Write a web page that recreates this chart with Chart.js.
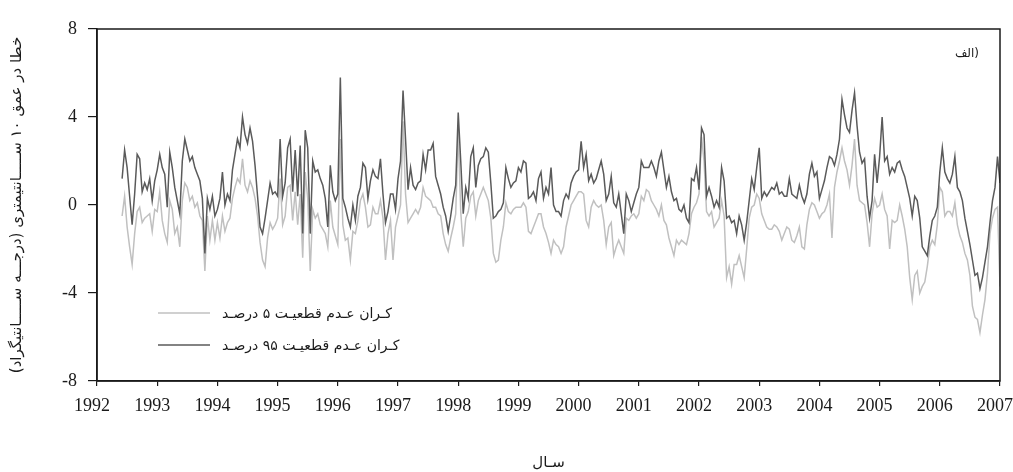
<!DOCTYPE html>
<html>
<head>
<meta charset="utf-8">
<script src="https://cdn.jsdelivr.net/npm/chart.js@4.4.1/dist/chart.umd.min.js"></script>
<style>
  html, body { margin: 0; padding: 0; background: #fff; }
  #wrap { width: 1013px; height: 472px; position: relative; }
</style>
</head>
<body>
<div id="wrap"><canvas id="errChart"></canvas></div>
<script>
// ===== Data (half-month samples) =====
const SAMPLE_START = 1992.417;   // first sample, early June 1992
const SAMPLE_STEP = 1 / 24;      // two samples per month

// upper 95% uncertainty bound
const upper95 = [
  1.2, 2.5, 1.7, 0.4, -0.9, 0.5, 2.3, 2.1, 0.6, 1.0, 0.7, 1.2, 0.2, 1.1,                                   // 1992
  1.6, 2.3, 1.7, 1.4, -0.1, 2.4, 1.7, 0.8, 0.2, -0.4, 2.0, 3.0, 2.5, 2.0, 2.2, 1.7, 1.4, 1.1, 0.3, -2.2, 0.3, -0.2, 0.4, -0.5, // 1993
  -0.2, 0.3, 1.5, 0.0, 0.5, 0.2, 1.6, 2.3, 3.0, 2.6, 4.0, 3.2, 2.8, 3.5, 2.9, 1.8, 0.4, -1.0, -1.3, -0.6, 0.2, 1.0, 0.5, 0.6,  // 1994
  0.4, 3.0, 0.4, 1.0, 2.6, 3.0, 0.6, 2.5, 0.4, 2.7, -1.3, 3.4, 2.6, -1.3, 2.0, 1.5, 1.6, 1.2, 0.9, 0.3, -1.0, 1.8, 0.6, 0.2,   // 1995
  0.5, 5.8, 0.3, -0.1, -0.6, -1.0, 0.0, -0.7, 0.4, 0.8, 1.9, 1.7, 0.3, 1.1, 1.6, 1.3, 1.2, 2.1, 0.5, -0.8, -0.3, 0.5, 0.5, -0.2, // 1996
  1.2, 2.0, 5.2, 3.0, 0.7, 1.7, 0.9, 0.7, 1.0, 1.1, 2.3, 1.6, 2.5, 2.5, 2.8, 1.3, 0.9, 0.5, -0.1, -0.5, -1.2, -0.5, 0.3, 0.9,   // 1997
  4.2, 2.0, -0.4, 0.8, 0.3, 2.2, 2.6, 0.8, 1.8, 2.1, 2.2, 2.6, 2.4, 1.0, -0.6, -0.5, -0.3, -0.2, 0.1, 1.7, 1.2, 0.8, 1.0, 1.1,  // 1998
  1.7, 1.5, 2.0, 1.9, 0.3, 0.4, 0.6, 0.2, 1.2, 1.5, 0.3, 0.8, 0.5, 1.7, 0.0, -0.3, -0.3, -0.5, 0.2, 0.5, 0.3, 1.0, 1.3, 1.5,   // 1999
  1.6, 2.9, 1.7, 2.3, 1.1, 1.4, 1.0, 1.2, 1.6, 2.0, 1.4, 0.2, 0.5, 1.3, 0.1, -0.1, 0.5, -0.4, -1.3, 0.5, 0.2, -0.3, 0.1, 0.5,  // 2000
  0.8, 2.0, 1.7, 1.7, 1.7, 2.0, 1.7, 1.3, 2.0, 2.4, 1.6, 0.8, 1.3, 0.6, 0.2, 0.3, -0.2, -0.3, 0.0, -0.6, -0.8, 1.2, 1.1, 1.7,  // 2001
  0.7, 3.5, 3.2, 0.4, 0.8, 0.4, -0.1, 0.2, -0.1, 1.7, 1.1, -0.6, -0.5, -0.8, -0.7, -1.3, -0.5, -0.9, -1.6, -0.8, 0.2, 1.2, 0.7, 1.7, // 2002
  2.6, 0.3, 0.6, 0.4, 0.6, 0.8, 0.7, 1.0, 0.5, 0.6, 0.4, 0.4, 1.2, 0.5, 0.4, 0.3, 0.9, 0.4, 0.1, 0.5, 1.4, 1.9, 1.3, 1.5,      // 2003
  0.3, 0.7, 1.1, 1.7, 2.2, 2.1, 1.8, 2.3, 3.0, 4.8, 4.1, 3.5, 3.3, 4.3, 5.1, 3.6, 2.4, 1.9, 2.1, 0.4, -0.6, 0.2, 2.3, 1.0,     // 2004
  2.2, 4.0, 2.0, 2.2, 1.4, 1.7, 1.5, 1.9, 2.0, 1.6, 1.3, 0.8, 0.3, -0.5, 0.4, 0.2, -0.6, -1.9, -2.1, -2.3, -1.4, -0.7, -0.5, -0.1, // 2005
  1.5, 2.6, 1.5, 1.2, 1.0, 1.4, 2.2, 0.8, 0.6, 0.2, -0.6, -1.2, -1.8, -2.5, -3.2, -3.1, -3.8, -3.3, -2.6, -1.9, -0.8, 0.2, 0.8, 2.2, // 2006
  1.0                                                                                                           // 2007
];

// lower 5% uncertainty bound
const lower5 = [
  -0.5, 0.4, -1.0, -1.9, -2.7, -1.3, -0.3, -0.1, -0.8, -0.6, -0.5, -0.4, -1.2, -0.2,                          // 1992
  -0.3, 0.6, -0.7, -1.3, -1.7, 0.2, -0.2, -1.3, -1.0, -1.9, 0.2, 1.0, 0.8, 0.2, 0.4, -0.1, 0.1, -0.5, -0.7, -3.0, -0.5, -1.6, -0.7, -1.6, // 1993
  -0.8, -1.5, -0.5, -1.2, -0.8, -0.6, 0.3, 0.8, 1.2, 1.0, 2.1, 0.9, 0.6, 1.1, 0.8, 0.3, -0.5, -1.7, -2.5, -2.8, -1.5, -0.8, -1.1, -0.9, // 1994
  -0.6, 1.2, -0.9, -0.5, 0.8, 0.9, -0.7, 0.6, -0.9, 0.5, -2.4, 1.5, 0.3, -3.0, -0.2, -0.6, -0.4, -0.9, -1.1, -1.3, -1.9, 0.2, -1.0, -1.4, // 1995
  -1.8, 3.0, -0.9, -1.6, -1.5, -2.5, -1.2, -1.3, -0.7, 0.2, 0.5, -0.1, -1.0, -0.9, -0.1, -0.4, -0.4, 0.2, -0.6, -2.5, -1.3, -0.7, -2.5, -1.0, // 1996
  -0.5, 0.0, 3.8, 0.5, -0.8, -0.6, -0.4, -0.2, -0.4, -0.1, 0.8, 0.4, 0.3, 0.2, -0.1, -0.1, -0.4, -0.5, -1.3, -1.8, -2.1, -1.5, -1.0, -0.4, // 1997
  3.4, -0.3, -1.9, -0.6, -0.3, 0.4, 0.6, -0.5, 0.2, 0.5, 0.8, 0.5, 0.2, -0.6, -2.2, -2.6, -2.5, -1.6, -1.0, 0.1, -0.3, -0.4, -0.2, -0.1, // 1998
  -0.1, -0.1, 0.1, -0.1, -1.2, -1.3, -1.0, -0.7, -0.4, -0.4, -1.0, -1.3, -1.7, -2.2, -1.6, -1.8, -1.9, -2.2, -1.9, -1.0, -0.5, 0.0, 0.2, 0.4, // 1999
  0.6, 0.6, 0.5, -0.7, -1.0, -0.1, 0.2, 0.0, -0.1, 0.0, -0.7, -1.8, -1.0, -0.8, -2.3, -1.9, -1.6, -1.9, -2.2, -0.6, -0.7, -0.5, -0.4, -0.6, // 2000
  -0.4, 0.4, 0.2, 0.7, 0.6, 0.2, 0.0, -0.2, -0.5, 0.0, -0.7, -0.9, -1.5, -1.9, -2.3, -1.6, -1.8, -1.6, -1.7, -1.8, -1.3, -0.4, -0.1, 0.1, // 2001
  0.5, 3.1, 2.0, -0.3, -0.5, -0.3, -1.0, -0.8, -0.6, 0.2, -0.5, -3.3, -2.8, -3.6, -2.7, -2.7, -2.3, -2.8, -3.3, -2.0, -0.6, -0.1, 0.0, 0.5, // 2002
  0.3, -0.4, -0.7, -1.0, -1.1, -1.1, -0.9, -1.0, -1.2, -1.6, -1.3, -1.0, -1.1, -1.6, -1.7, -1.4, -1.0, -1.9, -2.0, -0.9, -0.2, 0.1, 0.0, -0.3, // 2003
  -0.6, -0.4, -0.3, 0.0, 0.5, -1.5, 0.8, 1.5, 2.0, 2.6, 2.0, 1.6, 0.9, 1.8, 3.0, 0.9, 0.2, 0.1, 0.0, -0.8, -1.9, -0.4, 0.3, -0.1, // 2004
  0.0, 0.5, -0.2, -0.5, -2.0, -0.7, -0.8, -0.7, 0.0, -0.5, -1.1, -1.9, -3.3, -4.3, -3.2, -3.0, -4.0, -3.7, -3.5, -2.8, -1.9, -1.6, -1.8, -0.9, // 2005
  0.8, 0.6, -0.5, -0.3, -0.3, -0.5, 0.1, -0.9, -1.4, -1.7, -2.2, -2.5, -3.2, -4.6, -5.1, -5.2, -5.8, -5.0, -4.3, -3.1, -1.3, -0.6, -0.2, -0.1, // 2006
  -3.7                                                                                                          // 2007
];

const X_MIN = 1992, X_MAX = 2007;
const Y_TICKS = [-8, -4, 0, 4, 8];

const LEGEND_LOW = 'کـران عـدم قطعیـت ۵ درصـد';
const LEGEND_HIGH = 'کـران عـدم قطعیـت ۹۵ درصـد';
const PANEL_LABEL = 'الف)';
const X_TITLE = 'سـال';
const Y_TITLE = 'خطا در عمق ۱۰ ســـــانتیمتری (درجـــه ســـــانتیگراد)';

// ===== Styles =====
const DARK = '#5a5a5a';
const LIGHT = '#c0c0c0';
const INK = '#1a1a1a';
const SERIF = "'Liberation Serif', 'DejaVu Serif', serif";
const FA = "'DejaVu Sans', 'Noto Sans', sans-serif";

const toPoints = arr => arr.map((v, i) => ({ x: SAMPLE_START + i * SAMPLE_STEP, y: v }));

// frame, legend and panel label drawn on top of the plot
const overlay = {
  id: 'overlay',
  afterDraw(chart) {
    const { ctx, chartArea: a } = chart;
    ctx.save();
    ctx.strokeStyle = INK;
    ctx.lineWidth = 1.5;
    ctx.strokeRect(a.left, a.top, a.right - a.left, a.bottom - a.top);

    const rows = [
      { text: LEGEND_LOW, color: LIGHT, y: 313 },
      { text: LEGEND_HIGH, color: DARK, y: 345 }
    ];
    ctx.font = '14px ' + FA;
    ctx.textBaseline = 'middle';
    ctx.textAlign = 'left';
    ctx.direction = 'ltr';
    rows.forEach(r => {
      ctx.strokeStyle = r.color;
      ctx.lineWidth = 1.5;
      ctx.beginPath();
      ctx.moveTo(a.left + 61, r.y);
      ctx.lineTo(a.left + 113, r.y);
      ctx.stroke();
      ctx.fillStyle = INK;
      ctx.fillText(r.text, a.left + 125, r.y + 1);
    });

    ctx.font = '12px ' + FA;
    ctx.textAlign = 'right';
    ctx.fillText(PANEL_LABEL, a.right - 21, a.top + 25);
    ctx.restore();
  }
};

const ctx = document.getElementById('errChart').getContext('2d');
new Chart(ctx, {
  type: 'line',
  data: {
    datasets: [
      { label: LEGEND_HIGH, data: toPoints(upper95), borderColor: DARK, borderWidth: 1.5, pointRadius: 0, tension: 0 },
      { label: LEGEND_LOW, data: toPoints(lower5), borderColor: LIGHT, borderWidth: 1.5, pointRadius: 0, tension: 0 }
    ]
  },
  options: {
    animation: false, responsive: true, maintainAspectRatio: false,
    layout: { padding: { top: 29, right: 13, left: 0, bottom: 0 } },
    plugins: { legend: { display: false }, tooltip: { enabled: false } },
    scales: {
      x: {
        type: 'linear', min: X_MIN, max: X_MAX,
        afterFit: s => { s.height = 91; s.paddingLeft = 0; s.paddingRight = 0; },
        ticks: {
          stepSize: 1, autoSkip: false, maxRotation: 0, labelOffset: -5, padding: 9,
          color: INK, font: { family: SERIF, size: 18 },
          callback: v => String(v)
        },
        grid: { drawOnChartArea: false, drawTicks: true, tickLength: 5, color: INK, lineWidth: 1.2 },
        border: { display: true, color: INK, width: 1.5 },
        title: { display: true, text: X_TITLE, color: INK, font: { family: FA, size: 15 }, padding: { top: 0, bottom: 0 } }
      },
      y: {
        min: -8, max: 8,
        afterFit: s => { s.width = 97; },
        afterBuildTicks: s => { s.ticks = Y_TICKS.map(v => ({ value: v })); },
        ticks: { padding: 11, color: INK, font: { family: SERIF, size: 18 } },
        grid: { drawOnChartArea: false, drawTicks: true, tickLength: 9, color: INK, lineWidth: 1.2 },
        border: { display: true, color: INK, width: 1.5 },
        title: { display: true, text: Y_TITLE, color: INK, font: { family: FA, size: 15 }, padding: { top: 8, bottom: 0 } }
      }
    }
  },
  plugins: [overlay]
});
</script>
</body>
</html>
